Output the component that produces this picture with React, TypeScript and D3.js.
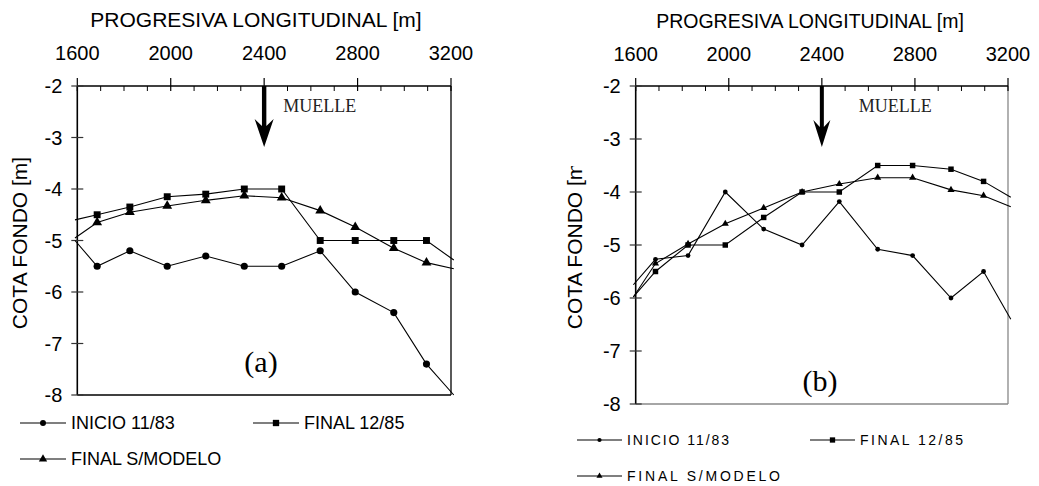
import { useEffect, useRef } from 'react';
import * as d3 from 'd3';

// progresivas de los puntos medidos [m]
const progresivas = [1685, 1825, 1985, 2150, 2315, 2475, 2640, 2790, 2955, 3095];
// las lineas siguen hasta el borde del grafico
const bordes = [1590, 3212];

// (a)
const inicioA = [-5.5, -5.2, -5.5, -5.3, -5.5, -5.5, -5.2, -6.0, -6.4, -7.4];
const inicioABordes = [-5.0, -8.0];
const finalA = [-4.5, -4.35, -4.15, -4.1, -4.0, -4.0, -5.0, -5.0, -5.0, -5.0];
const finalABordes = [-4.6, -5.38];
const modeloA = [-4.65, -4.45, -4.33, -4.22, -4.13, -4.17, -4.42, -4.74, -5.15, -5.43];
const modeloABordes = [-4.95, -5.55];

// (b)
const inicioB = [-5.27, -5.2, -4.0, -4.7, -5.0, -4.18, -5.08, -5.2, -6.0, -5.5];
const inicioBBordes = [-5.75, -6.4];
const finalB = [-5.5, -5.0, -5.0, -4.48, -4.0, -4.0, -3.5, -3.5, -3.57, -3.8];
const finalBBordes = [-5.98, -4.1];
const modeloB = [-5.35, -4.98, -4.6, -4.3, -4.0, -3.85, -3.73, -3.73, -3.96, -4.07];
const modeloBBordes = [-5.98, -4.28];

const xDomain = [1600, 3200];
const yDomain = [-8, -2];
const xTicks = [1600, 2000, 2400, 2800, 3200];
const yTicks = [-8, -7, -6, -5, -4, -3, -2];
const muelle = 2400;

const leyenda = ['INICIO 11/83', 'FINAL 12/85', 'FINAL S/MODELO'];
const simbolos = [d3.symbolCircle, d3.symbolSquare, d3.symbolTriangle];

const SANS = '"Liberation Sans", Arial, sans-serif';
const SERIF = '"Liberation Serif", "Times New Roman", serif';

function drawPanel(svg: any, p: any) {
  const x = d3.scaleLinear().domain(xDomain).range([p.x0, p.x1]);
  const y = d3.scaleLinear().domain(yDomain).range([p.y1, p.y0]);
  const g = svg.append('g');

  // marco derecho e inferior
  g.append('line').attr('x1', p.x1).attr('x2', p.x1).attr('y1', p.y0).attr('y2', p.y1)
    .attr('stroke', p.frame).attr('stroke-width', 1.3);
  g.append('line').attr('x1', p.x0).attr('x2', p.x1).attr('y1', p.y1).attr('y2', p.y1)
    .attr('stroke', p.frame).attr('stroke-width', 1.3);

  // eje superior
  g.append('line').attr('x1', p.x0).attr('x2', p.x1).attr('y1', p.y0).attr('y2', p.y0)
    .attr('stroke', '#000').attr('stroke-width', 1.6);
  g.selectAll('.minor').data(d3.range(1600, 3201, 100).filter(v => v % 400 !== 0)).join('line')
    .attr('x1', d => x(d)).attr('x2', d => x(d)).attr('y1', p.y0).attr('y2', p.y0 + 5)
    .attr('stroke', '#000').attr('stroke-width', 1);
  g.selectAll('.major').data(xTicks).join('line')
    .attr('x1', d => x(d)).attr('x2', d => x(d)).attr('y1', p.y0 - 8).attr('y2', p.y0 + 5)
    .attr('stroke', '#000').attr('stroke-width', 1.2);
  g.selectAll('.xlab').data(xTicks).join('text')
    .attr('x', d => x(d)).attr('y', p.xLabY).attr('text-anchor', 'middle')
    .attr('font-family', SANS).attr('font-size', 20).text(d => String(d));
  g.append('text').attr('x', p.titleX).attr('y', p.titleY).attr('text-anchor', 'middle')
    .attr('font-family', SANS).attr('font-size', p.titleSize)
    .text('PROGRESIVA LONGITUDINAL [m]');

  // eje izquierdo
  g.append('line').attr('x1', p.x0).attr('x2', p.x0).attr('y1', p.y0).attr('y2', p.y1)
    .attr('stroke', '#000').attr('stroke-width', 1.6);
  g.selectAll('.ytick').data(yTicks).join('line')
    .attr('x1', p.x0 - 6).attr('x2', p.x0 + 6).attr('y1', d => y(d)).attr('y2', d => y(d))
    .attr('stroke', '#333').attr('stroke-width', 1.2);
  g.selectAll('.ylab').data(yTicks).join('text')
    .attr('x', p.x0 - 15).attr('y', d => y(d)).attr('dy', '0.36em').attr('text-anchor', 'end')
    .attr('font-family', SANS).attr('font-size', 20).text(d => String(d));

  const yl = g.append('g');
  if (p.yLabelClip) {
    const id = 'clip-' + p.name;
    svg.append('clipPath').attr('id', id).append('rect')
      .attr('x', 0).attr('y', p.yLabelClip).attr('width', 1039).attr('height', 486);
    yl.attr('clip-path', `url(#${id})`);
  }
  yl.append('text')
    .attr('transform', `translate(${p.yLabX},${p.yLabCY}) rotate(-90)`)
    .attr('text-anchor', 'middle').attr('font-family', SANS).attr('font-size', p.yLabSize)
    .text('COTA FONDO [m]');

  // flecha del muelle
  const mx = x(muelle);
  const w = p.shaft, hw = p.head;
  g.append('path')
    .attr('d', `M${mx - w},${p.y0} L${mx + w},${p.y0} L${mx + w},${p.headY + 7} L${mx + hw},${p.headY} L${mx},${p.tipY} L${mx - hw},${p.headY} L${mx - w},${p.headY + 7} Z`)
    .attr('fill', '#000');
  g.append('text').attr('x', mx + p.muelleDx).attr('y', 112)
    .attr('font-family', SERIF).attr('font-size', 18).attr('fill', '#222').text('MUELLE');

  // series
  const line = d3.line<[number, number]>().x(d => x(d[0])).y(d => y(d[1]));
  p.series.forEach((s: any, i: number) => {
    const pts: [number, number][] = [
      [bordes[0], s.bordes[0]],
      ...s.vals.map((v: number, k: number) => [progresivas[k], v] as [number, number]),
      [bordes[1], s.bordes[1]]
    ];
    g.append('path').attr('d', line(pts)).attr('fill', 'none')
      .attr('stroke', '#000').attr('stroke-width', 1.1);
    g.selectAll('.m' + i).data(pts.slice(1, -1)).join('path')
      .attr('transform', d => `translate(${x(d[0])},${y(d[1])})`)
      .attr('d', d3.symbol().type(simbolos[i]).size(p.sizes[i])())
      .attr('fill', '#000');
  });

  // etiqueta (a)/(b)
  g.append('text').attr('x', p.tagX).attr('y', p.tagY).attr('text-anchor', 'middle')
    .attr('font-family', SERIF).attr('font-size', 30).text(p.tag);

  // leyenda
  leyenda.forEach((txt, i) => {
    const lx = p.legX[i], ly = p.legY[i];
    g.append('line').attr('x1', lx).attr('x2', lx + p.legLen).attr('y1', ly).attr('y2', ly)
      .attr('stroke', '#000').attr('stroke-width', 1.1);
    g.append('path').attr('transform', `translate(${lx + p.legLen / 2},${ly})`)
      .attr('d', d3.symbol().type(simbolos[i]).size(p.legSizes[i])()).attr('fill', '#000');
    const t = g.append('text').attr('x', lx + p.legLen + 5).attr('y', ly).attr('dy', '0.36em')
      .attr('font-family', SANS).attr('font-size', p.legFont).text(txt);
    if (p.legWidths) t.attr('textLength', p.legWidths[i]).attr('lengthAdjust', 'spacing');
  });
}

export default function App() {
  const ref = useRef<SVGSVGElement>(null);

  useEffect(() => {
    if (!ref.current) return;
    const svg = d3.select(ref.current);
    svg.selectAll('*').remove();

    drawPanel(svg, {
      name: 'a', x0: 77.3, x1: 451, y0: 86, y1: 395, frame: '#000',
      xLabY: 60, titleX: 256, titleY: 27, titleSize: 21,
      yLabX: 27, yLabCY: 243, yLabSize: 21,
      shaft: 2.2, head: 9.5, headY: 119, tipY: 147, muelleDx: 19,
      tag: '(a)', tagX: 261, tagY: 372,
      sizes: [40, 48, 42],
      series: [
        { vals: inicioA, bordes: inicioABordes },
        { vals: finalA, bordes: finalABordes },
        { vals: modeloA, bordes: modeloABordes }
      ],
      legX: [20, 253, 20], legY: [423, 423, 459], legLen: 46, legFont: 18,
      legSizes: [28, 40, 30]
    });

    drawPanel(svg, {
      name: 'b', x0: 635.7, x1: 1008, y0: 86, y1: 404, frame: '#888',
      xLabY: 61, titleX: 810, titleY: 28, titleSize: 19.5,
      yLabX: 582, yLabCY: 243, yLabSize: 21, yLabelClip: 166,
      shaft: 2, head: 8.5, headY: 120, tipY: 147, muelleDx: 37,
      tag: '(b)', tagX: 820, tagY: 391,
      sizes: [18, 30, 22],
      series: [
        { vals: inicioB, bordes: inicioBBordes },
        { vals: finalB, bordes: finalBBordes },
        { vals: modeloB, bordes: modeloBBordes }
      ],
      legX: [577, 810, 577], legY: [440, 440, 476], legLen: 45, legFont: 14,
      legSizes: [14, 28, 16], legWidths: [102, 103, 153]
    });
  }, []);

  return (
    <svg ref={ref} width={1039} height={486}
      style={{ position: 'absolute', left: 0, top: 0, background: '#fff' }} />
  );
}
